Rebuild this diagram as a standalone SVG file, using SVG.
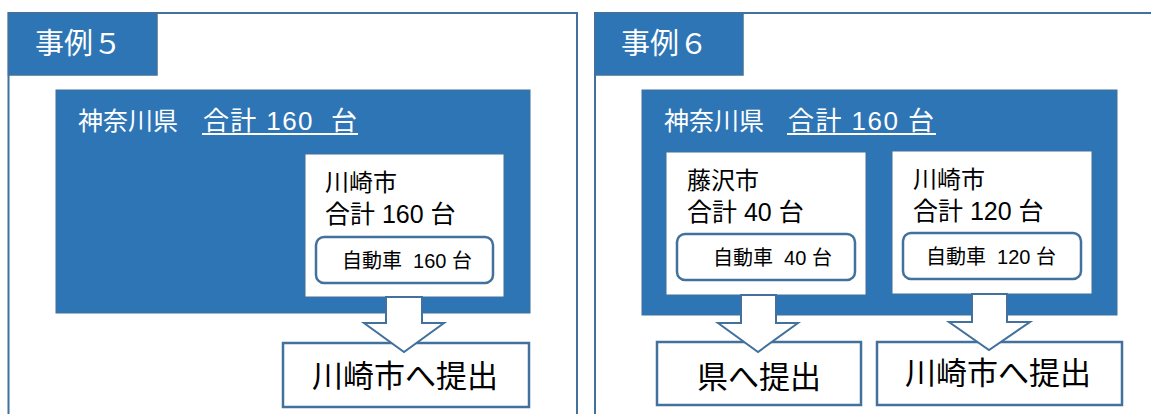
<svg xmlns="http://www.w3.org/2000/svg" width="1151" height="414" viewBox="0 0 1151 414">
<style>
text{font-family:"Liberation Sans","Noto Sans CJK JP",sans-serif;white-space:pre}
.panel{fill:#fff;stroke:#41719C;stroke-width:2}
.title{fill:#2E75B6;stroke:#41719C;stroke-width:1.5}
.pref{fill:#2E75B6;stroke:#41719C;stroke-width:1}
.city{fill:#fff;stroke:#41719C;stroke-width:1}
.car{fill:#fff;stroke:#41719C;stroke-width:2.5}
.sub{fill:#fff;stroke:#41719C;stroke-width:2.5}
.arrow{fill:#fff;stroke:#41719C;stroke-width:2;stroke-linejoin:miter}
.tw{fill:#fff}
.tb{fill:#000}
.ul{stroke:#fff;stroke-width:2}
</style>
<g id="panel5">
<rect class="panel" x="8.5" y="13" width="568.5" height="430"/>
</g>
<g id="panel6">
<rect class="panel" x="595" y="13" width="600" height="430"/>
</g>
<g id="title5">
<rect class="title" x="8.5" y="13" width="148.5" height="62"/>
<text class="tw" x="35" y="54" font-size="29">事例５</text>
</g>
<g id="title6">
<rect class="title" x="595" y="13" width="148" height="62"/>
<text class="tw" x="621" y="54" font-size="29">事例６</text>
</g>
<g id="pref5">
<rect class="pref" x="56" y="90" width="474" height="223"/>
<text class="tw" x="78" y="130" font-size="25">神奈川県</text>
<text class="tw" x="203" y="130" font-size="26" textLength="154" lengthAdjust="spacing">合計 160  台</text>
<line class="ul" x1="202" y1="134" x2="358" y2="134"/>
</g>
<g id="pref6">
<rect class="pref" x="642" y="90" width="475" height="225"/>
<text class="tw" x="664" y="130" font-size="25">神奈川県</text>
<text class="tw" x="788" y="130" font-size="26" textLength="146" lengthAdjust="spacing">合計 160 台</text>
<line class="ul" x1="787" y1="134" x2="936" y2="134"/>
</g>
<g id="kawasaki5">
<rect class="city" x="305" y="154" width="199" height="143"/>
<text class="tb" font-size="24"><tspan x="325" y="191">川崎市</tspan><tspan x="325" y="223" font-size="25">合計 160 台</tspan></text>
</g>
<g id="car5">
<rect class="car" x="316" y="237" width="177" height="46" rx="8"/>
<text class="tb" x="342" y="268" font-size="20">自動車  160 台</text>
</g>
<g id="fujisawa6">
<rect class="city" x="666" y="152" width="200" height="143"/>
<text class="tb" font-size="24"><tspan x="687" y="189">藤沢市</tspan><tspan x="687" y="221" font-size="25">合計 40 台</tspan></text>
</g>
<g id="car6a">
<rect class="car" x="677" y="234" width="178" height="46" rx="8"/>
<text class="tb" x="713" y="265" font-size="20">自動車  40 台</text>
</g>
<g id="kawasaki6">
<rect class="city" x="892" y="151" width="200" height="143"/>
<text class="tb" font-size="24"><tspan x="913" y="188">川崎市</tspan><tspan x="913" y="220" font-size="25">合計 120 台</tspan></text>
</g>
<g id="car6b">
<rect class="car" x="903" y="233" width="178" height="46" rx="8"/>
<text class="tb" x="926" y="264" font-size="20">自動車  120 台</text>
</g>
<g id="submit5">
<rect class="sub" x="283" y="343" width="246" height="64"/>
<text class="tb" x="312" y="387" font-size="31">川崎市へ提出</text>
</g>
<g id="submit6a">
<rect class="sub" x="657" y="342" width="204" height="63"/>
<text class="tb" x="697" y="388" font-size="31">県へ提出</text>
</g>
<g id="submit6b">
<rect class="sub" x="877" y="342" width="245" height="63"/>
<text class="tb" x="905" y="384" font-size="31">川崎市へ提出</text>
</g>
<g id="connectors">
<path class="arrow" d="M386,297 L422,297 L422,323 L444,323 L404,352 L364,323 L386,323 Z"/>
<path class="arrow" d="M741,295 L776,295 L776,323 L798,323 L758,352 L718,323 L741,323 Z"/>
<path class="arrow" d="M972,294 L1007,294 L1007,322 L1030,322 L989,350 L949,322 L972,322 Z"/>
</g>
</svg>
